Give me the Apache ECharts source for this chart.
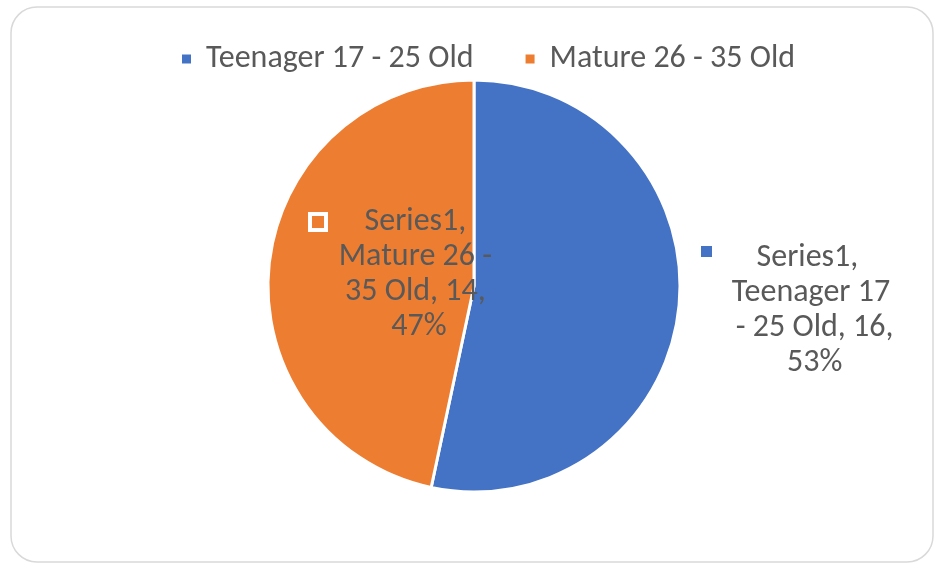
<!DOCTYPE html>
<html>
<head>
<meta charset="utf-8">
<script src="https://cdn.jsdelivr.net/npm/echarts@6/dist/echarts.min.js"></script>
<style>
  html, body { margin: 0; padding: 0; background: #fff; }
  #main { width: 938px; height: 565px; }
</style>
</head>
<body>
<div id="main"></div>
<script>
const seriesName = "Series1";
const categories = ["Teenager 17 - 25 Old", "Mature 26 - 35 Old"];
const values = [16, 14];
const colors = ["#4472C4", "#ED7D31"];

const FONT = "Carlito, Lato, sans-serif";
const TEXT = "#595959";
// where each data label sits (centre of the text block)
const labelSpots = [
  { x: 811, y: 310 },
  { x: 419, y: 274 },
];

const chart = echarts.init(document.getElementById("main"));
chart.setOption({
  animation: false,
  legend: {
    top: 38,
    left: 175,
    icon: "rect",
    itemWidth: 11,
    itemHeight: 11,
    itemGap: 50,
    textStyle: { color: TEXT, fontSize: 32, fontFamily: FONT, padding: [0, 0, 0, 9] },
    data: categories,
  },
  graphic: [
    {
      type: "rect",
      shape: { x: 11, y: 7, width: 922, height: 555, r: 26 },
      style: { fill: "none", stroke: "#d9d9d9", lineWidth: 1.5 },
      silent: true,
    },
    {
      type: "rect",
      shape: { x: 701, y: 246, width: 11, height: 11 },
      style: { fill: colors[0] },
      z: 100,
    },
    {
      type: "rect",
      shape: { x: 310, y: 214, width: 16, height: 16 },
      style: { fill: colors[1], stroke: "#fff", lineWidth: 4 },
      z: 100,
    },
  ],
  series: [
    {
      name: seriesName,
      type: "pie",
      center: [474, 286],
      radius: 206,
      startAngle: 90,
      clockwise: true,
      itemStyle: { borderColor: "#fff", borderWidth: 3 },
      labelLine: { show: false },
      label: {
        show: true,
        position: "inside",
        color: TEXT,
        fontSize: 32,
        fontFamily: FONT,
        lineHeight: 35,
        width: 166,
        overflow: "break",
        align: "center",
        formatter: (p) => `${p.seriesName}, ${p.name}, ${p.value}, ${Math.round(p.percent)}%`,
      },
      labelLayout: (p) => ({
        x: labelSpots[p.dataIndex].x,
        y: labelSpots[p.dataIndex].y,
        align: "center",
        verticalAlign: "middle",
      }),
      emphasis: { disabled: true },
      data: categories.map((name, i) => ({
        name,
        value: values[i],
        itemStyle: { color: colors[i] },
      })),
    },
  ],
});
</script>
</body>
</html>
